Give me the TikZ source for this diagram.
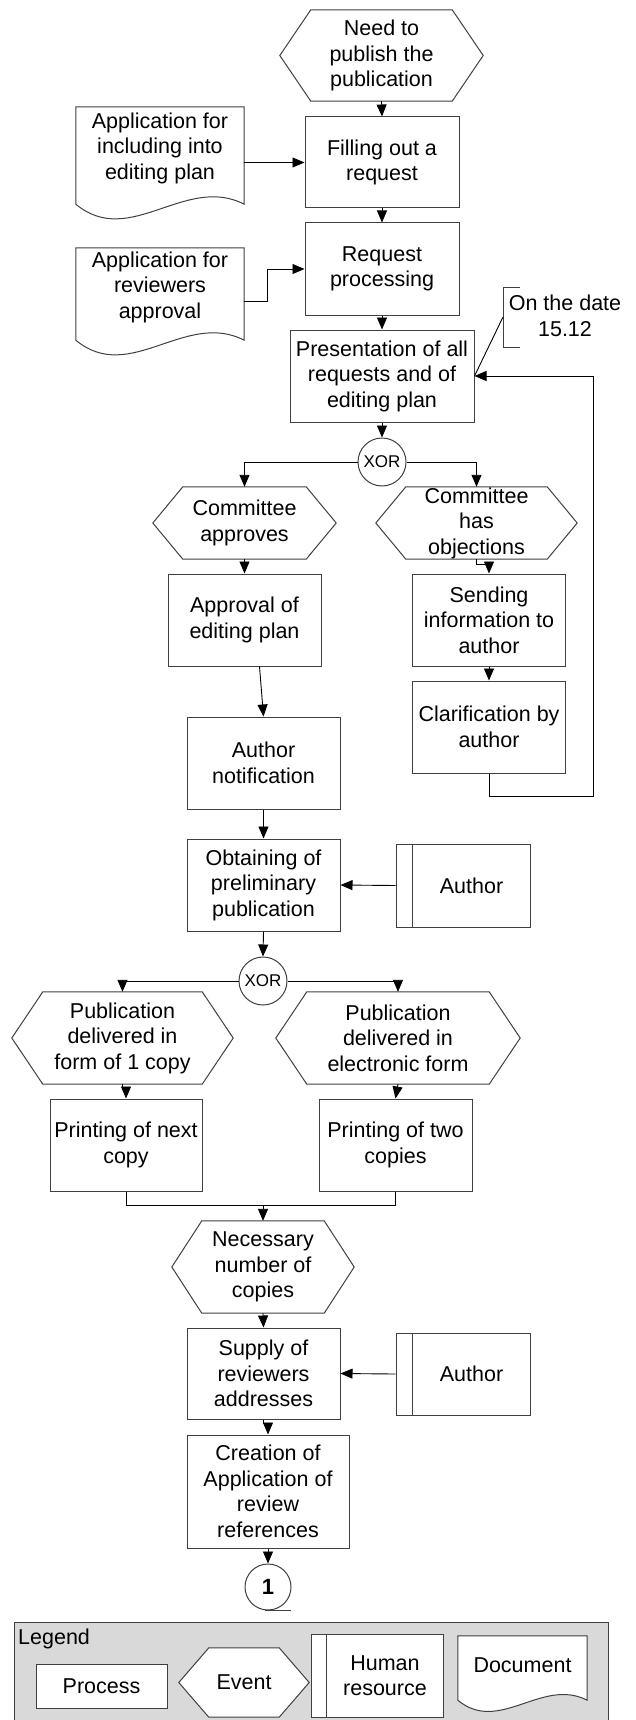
\documentclass[tikz,border=0pt]{standalone}
\usepackage{fontspec}
\setmainfont{Liberation Sans}
\usetikzlibrary{arrows.meta}
\pgfdeclarelayer{back}
\pgfdeclarelayer{shp}
\pgfsetlayers{back,shp,main}
\tikzset{
  base/.style={font=\fontsize{21.5}{25.5}\selectfont, align=center, inner sep=0pt},
  ln/.style={draw=black!75, line width=1pt},
  proc/.style={base, ln, fill=white, minimum width=153pt, minimum height=92pt},
  arr/.style={draw=black, line width=0.9pt, -{Triangle[length=12pt,width=10pt]}},
  conn/.style={draw=black, line width=0.9pt},
  xorn/.style={circle, ln, fill=white, minimum size=48pt, inner sep=0pt, font=\fontsize{17}{20}\selectfont},
}
% event hexagon: name, cx, cy, w, h, inset, text
\newcommand\eventshape[7]{%
  \node[base, minimum width=#4pt, minimum height=#5pt] (#1) at (#2,#3) {#7};
  \begin{pgfonlayer}{shp}
  \draw[ln, fill=white] (#1.west) -- ([xshift=#6pt]#1.north west) -- ([xshift=-#6pt]#1.north east) -- (#1.east) -- ([xshift=-#6pt]#1.south east) -- ([xshift=#6pt]#1.south west) -- cycle;
  \end{pgfonlayer}}
% document: name, x0, y0, x1, y1, text x, text y, text
\newcommand\docshape[8]{%
  \node[base, minimum width={#4-#2}, minimum height={#5-#3}] (#1) at ({(#2+#4)/2},{(#3+#5)/2}) {};
  \node[base] (#1t) at (#6,#7) {#8};
  \begin{pgfonlayer}{shp}
  \draw[ln, fill=white] (#1.north west) -- (#1.north east) -- (#1.south east)
    .. controls ({#2+0.65*(#4-#2)},{#5-30*(#4-#2)/168}) and ({#2+0.32*(#4-#2)},{#5+45*(#4-#2)/168}) .. (#1.south west) -- cycle;
  \end{pgfonlayer}}
% human resource: name, cx, cy, w, h, inner offset, text
\newcommand\hrshape[7]{%
  \node[proc, minimum width=#4pt, minimum height=#5pt] (#1) at (#2,#3) {};
  \draw[ln] ([xshift=#6pt]#1.north west) -- ([xshift=#6pt]#1.south west);
  \node[base] (#1t) at ({#2+#6/2},#3) {#7};}
\begin{document}
\begin{tikzpicture}[x=1pt,y=-1pt]
\useasboundingbox (0,0) rectangle (636,1720);
% main flow
\eventshape{need}{381.5}{55.5}{203}{91}{31}{Need to\\publish the\\publication}
\node[proc, minimum width=154pt, minimum height=91pt] (fill) at (382,162.5) {Filling out a\\request};
\docshape{docA}{76}{107}{244}{204}{160}{148}{Application for\\including into\\editing plan}
\node[proc, minimum width=154pt] (req) at (382,269) {Request\\processing};
\docshape{docB}{76}{248}{244}{340}{160}{287}{Application for\\reviewers\\approval}
\node[proc, minimum width=184pt] (pres) at (382,376) {Presentation of all\\requests and of\\editing plan};
\node[base] (ann) at (565,316) {On the date\\15.12};
\draw[ln] (520,287) -- (503,287) -- (503,347) -- (520,347);
\coordinate (annb) at (503,317);
\node[xorn] (xa) at (382,462) {XOR};
\eventshape{appr}{244.5}{523}{183}{72}{30}{Committee\\approves}
\eventshape{obj}{476.5}{523}{201}{72}{30}{Committee\\has\\objections}
\node[proc] (appv) at (244.5,620) {Approval of\\editing plan};
\node[proc] (notif) at (263.5,763) {Author\\notification};
\node[proc] (send) at (489,620) {Sending\\information to\\author};
\node[proc] (clar) at (489,727) {Clarification by\\author};
\coordinate (fb) at (593,796);
\node[proc] (obt) at (263.5,885) {Obtaining of\\preliminary\\publication};
\hrshape{auth}{463}{885.5}{134}{83}{17}{Author}
\node[xorn] (xb) at (263,981) {XOR};
\eventshape{pubA}{122.5}{1038}{221}{92}{31}{Publication\\delivered in\\form of 1 copy}
\eventshape{pubB}{398}{1038}{244}{92}{31}{Publication\\delivered in\\electronic form}
\node[proc, minimum width=152pt] (prA) at (126,1145) {Printing of next\\copy};
\node[proc] (prB) at (395.5,1145) {Printing of two\\copies};
\coordinate (mg) at (263,1205);
\eventshape{nec}{263}{1267}{182}{92}{30}{Necessary\\number of\\copies}
\node[proc, minimum height=91pt] (sup) at (263.5,1373.5) {Supply of\\reviewers\\addresses};
\hrshape{authB}{463}{1374}{134}{82}{17}{Author}
\node[proc, minimum width=162pt, minimum height=113pt] (cre) at (268,1491.5) {Creation of\\Application of\\review\\references};
\node[circle, ln, fill=white, minimum size=46pt, inner sep=0pt, font=\fontsize{22}{24}\selectfont\bfseries] (one) at (268,1587) {1};
\draw[ln] (265,1610) -- (291,1610);
% connectors
\draw[arr] (need.south) -- (fill.north);
\draw[arr] (docA.east |- fill.west) -- (fill.west);
\draw[arr] (fill.south) -- (req.north);
\draw[arr] (docB.east |- 0,301) -- (267,301) |- (req.west);
\draw[arr] (req.south) -- (pres.north);
\draw[conn] (annb) -- (pres.east);
\draw[arr] (pres.south) -- (xa.north);
\draw[arr] (xa.west) -| (appr.north);
\draw[arr] (xa.east) -| (obj.north);
\draw[arr] (appr.south) -- (appv.north);
\draw[arr] ([xshift=15pt]appv.south) -- (notif.north);
\draw[arr] (obj.south) -- ++(0,5) -| (send.north);
\draw[arr] (send.south) -- (clar.north);
\draw[arr] (clar.south) |- (fb) |- (pres.east);
\draw[arr] (notif.south) -- (obt.north);
\draw[arr] (auth.west) -- (obt.east);
\draw[arr] (obt.south) -- (xb.north);
\draw[arr] (xb.west) -| (pubA.north);
\draw[arr] (xb.east) -| (pubB.north);
\draw[arr] (pubA.south) -- ++(0,4) -| (prA.north);
\draw[arr] (pubB.south) -- (prB.north);
\draw[conn] (prA.south) |- (mg);
\draw[arr] (prB.south) |- (mg) -- (nec.north);
\draw[arr] (nec.south) -- (sup.north);
\draw[arr] (authB.west) -- (sup.east);
\draw[arr] (sup.south) -- ++(0,4) -| (cre.north);
\draw[arr] (cre.south) -- (one.north);
% legend
\begin{pgfonlayer}{back}
\draw[ln, fill=black!15] (14,1622) rectangle (608,1730);
\end{pgfonlayer}
\node[base, anchor=west] (leg) at (18,1639) {Legend};
\node[proc, minimum width=131pt, minimum height=44pt] (lgP) at (101.5,1686) {Process};
\eventshape{lgE}{244}{1682.5}{130}{69}{30}{Event}
\hrshape{lgH}{377}{1675.5}{132}{83}{16}{Human\\resource}
\docshape{lgD}{458}{1636}{587}{1700}{522.5}{1665}{Document}
\end{tikzpicture}
\end{document}
